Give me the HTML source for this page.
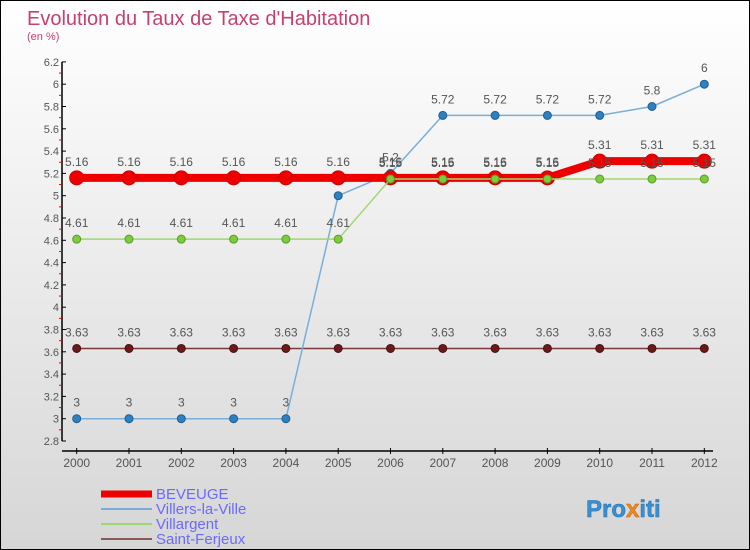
<!DOCTYPE html>
<html><head><meta charset="utf-8"><style>
body{margin:0}
#wrap{width:748px;height:548px;border:1px solid #000;background:linear-gradient(#fff,#d6d6d6);position:relative;font-family:"Liberation Sans",sans-serif;overflow:hidden}
svg{position:absolute;left:0;top:0}
</style></head><body>
<div id="wrap">
<svg id="c" width="750" height="550">
<text x="26" y="24" font-size="20" fill="#c8406c">Evolution du Taux de Taxe d'Habitation</text>
<text x="26" y="39" font-size="11" fill="#c8406c">(en %)</text>
<g id="axes"></g><g id="series"></g><g id="legend"></g>
<text x="585" y="516" font-size="24" font-weight="bold" fill="#3a8fd0" stroke="#1f6fb0" stroke-width="0.5">Pro<tspan fill="#f08a1c" stroke="#c06010">x</tspan>iti</text>
</svg>
</div>
<script>
const years=[2000,2001,2002,2003,2004,2005,2006,2007,2008,2009,2010,2011,2012];
const yTicks=[2.8,3,3.2,3.4,3.6,3.8,4,4.2,4.4,4.6,4.8,5,5.2,5.4,5.6,5.8,6,6.2];
const beveuge=[5.16,5.16,5.16,5.16,5.16,5.16,5.16,5.16,5.16,5.16,5.31,5.31,5.31];
const villers=[3,3,3,3,3,5,5.2,5.72,5.72,5.72,5.72,5.8,6];
const villargent=[4.61,4.61,4.61,4.61,4.61,4.61,5.15,5.15,5.15,5.15,5.15,5.15,5.15];
const ferjeux=[3.63,3.63,3.63,3.63,3.63,3.63,3.63,3.63,3.63,3.63,3.63,3.63,3.63];
const NS="http://www.w3.org/2000/svg";
const x=i=>75.7+i*52.3;
const y=v=>440-(v-2.8)*111.5;
function mk(t,a,p){const e=document.createElementNS(NS,t);for(const k in a)e.setAttribute(k,a[k]);p.appendChild(e);return e;}
const ax=document.getElementById('axes');
let l=mk('line',{x1:61,y1:y(6.2),x2:61,y2:y(2.8),stroke:'#000','stroke-width':1.5},ax);


l=mk('line',{x1:61,y1:450,x2:712,y2:450,stroke:'#000','stroke-width':1.5},ax);


yTicks.forEach((v,i)=>{
 mk('line',{x1:61,x2:65,y1:y(v),y2:y(v),stroke:'#000'},ax);
 if(i<yTicks.length-1)mk('line',{x1:58,x2:61,y1:y(v+0.1),y2:y(v+0.1),stroke:'#e00'},ax);
 const t=mk('text',{x:58,y:y(v)+4,'font-size':11,fill:'#555','text-anchor':'end'},ax);
 t.textContent=String(Math.round(v*10)/10);
 
 
});
years.forEach((yr,i)=>{
 mk('line',{x1:x(i),x2:x(i),y1:447,y2:453,stroke:'#000'},ax);
 const t=mk('text',{x:x(i),y:466,'font-size':12,fill:'#555','text-anchor':'middle'},ax);
 t.textContent=yr;
 
 
});
const S=document.getElementById('series');
function draw(name,vals,color,w,r,dot,dstroke){
 const g=mk('g',{},S);
 
 
 const ln=mk('polyline',{points:vals.map((v,i)=>x(i)+','+y(v)).join(' '),fill:'none',stroke:color,'stroke-width':w,'stroke-linejoin':'round'},g);
 
 
 vals.forEach((v,i)=>{
  const c=mk('circle',{cx:x(i),cy:y(v),r:r,fill:dot,stroke:dstroke,'stroke-width':1},g);
  
  
  const t=mk('text',{x:x(i),y:y(v)-12,'font-size':12,fill:'#555','text-anchor':'middle'},g);
  t.textContent=String(v);
  
  
 });
}
draw('saint-ferjeux',ferjeux,'#7a3a3a',1.5,4,'#6b1a1a','#4a1010');
draw('villers-la-ville',villers,'#7aaed8',1.5,4,'#2f80c0','#1f5f90');
draw('beveuge',beveuge,'#e00',8,7,'#e00','#c00');
draw('villargent',villargent,'#9fd870',1.5,4,'#7ccc3c','#5a9a2a');
const L=document.getElementById('legend');
const leg=[['BEVEUGE','#e00',7],['Villers-la-Ville','#7aaed8',2],['Villargent','#9fd870',2],['Saint-Ferjeux','#8a5a5a',2]];
leg.forEach((e,i)=>{
 const yy=493+i*15;
 const ln=mk('line',{x1:100,x2:151,y1:yy,y2:yy,stroke:e[1],'stroke-width':e[2]},L);
 
 
 const t=mk('text',{x:155,y:yy+5,'font-size':15,fill:'#6a6aff'},L);
 t.textContent=e[0];
 
 
});
</script>
</body></html>
